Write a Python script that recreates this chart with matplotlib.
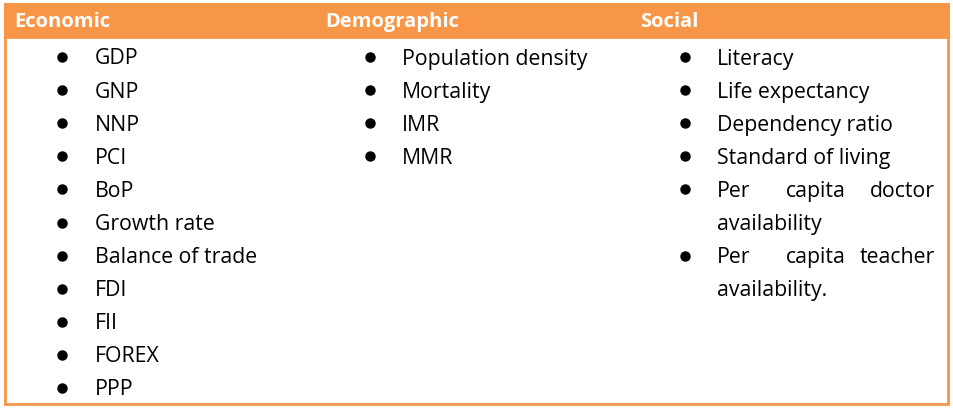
import matplotlib
matplotlib.use("Agg")
import matplotlib.pyplot as plt
from matplotlib.patches import Rectangle

plt.rcParams["font.family"] = ["Open Sans", "DejaVu Sans"]

ORANGE = "#F79646"

headers = ["Economic", "Demographic", "Social"]
economic = ["GDP", "GNP", "NNP", "PCI", "BoP", "Growth rate",
            "Balance of trade", "FDI", "FII", "FOREX", "PPP"]
demographic = ["Population density", "Mortality", "IMR", "MMR"]
# each social item: list of lines; first line of wrapped items is justified
social = [["Literacy"], ["Life expectancy"], ["Dependency ratio"],
          ["Standard of living"], ["Per capita doctor", "availability"],
          ["Per capita teacher", "availability."]]

fig = plt.figure(figsize=(9.54, 4.10), dpi=100)
ax = fig.add_axes([0, 0, 1, 1])
ax.set_xlim(0, 954)
ax.set_ylim(410, 0)
ax.axis("off")

# table frame and header band
ax.add_patch(Rectangle((5, 5), 943, 400, fill=False, edgecolor=ORANGE, lw=2))
ax.add_patch(Rectangle((5, 5), 943, 33, facecolor=ORANGE, edgecolor=ORANGE, lw=2))

head_x = [14, 325, 640]
bullet_x = [62, 370, 685]
text_x = [95, 402, 717]
right_edge = 935
row0, step = 59, 33.1
fs = 15.3

for hx, h in zip(head_x, headers):
    ax.text(hx, 22, h, color="white", fontsize=14.5, fontweight="bold",
            va="center", ha="left")


def bullet(col, row):
    ax.plot(bullet_x[col], row0 + row * step - 1, "o", ms=6.5, color="black")


for col, items in enumerate([economic, demographic]):
    for i, s in enumerate(items):
        bullet(col, i)
        ax.text(text_x[col], row0 + i * step, s, fontsize=fs, va="center", ha="left")

row = 0
for lines in social:
    bullet(2, row)
    for j, line in enumerate(lines):
        y = row0 + (row + j) * step
        if len(lines) > 1 and j == 0:
            words = line.split()
            ax.text(text_x[2], y, words[0], fontsize=fs, va="center", ha="left")
            ax.text((text_x[2] + right_edge) / 2 - 10, y, words[1], fontsize=fs,
                    va="center", ha="center")
            ax.text(right_edge, y, words[2], fontsize=fs, va="center", ha="right")
        else:
            ax.text(text_x[2], y, line, fontsize=fs, va="center", ha="left")
    row += len(lines)

fig.savefig("out.png", dpi=100)
